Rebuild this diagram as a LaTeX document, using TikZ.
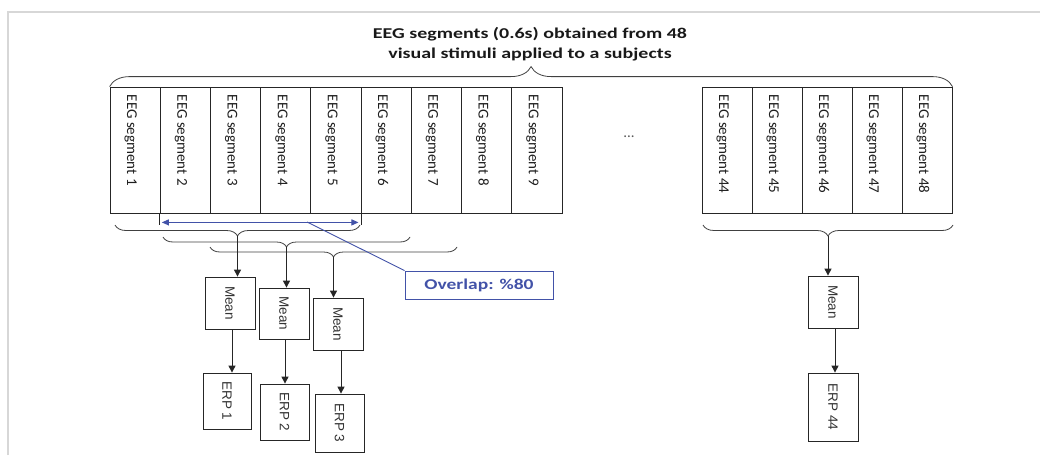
\documentclass[tikz,border=0pt]{standalone}
\usepackage{fontspec}
\setmainfont{Carlito}
\newfontfamily\arialf{Liberation Sans}
\usetikzlibrary{arrows.meta,decorations.pathreplacing}
\definecolor{ovblue}{RGB}{66,82,168}
\definecolor{framegray}{RGB}{215,215,215}
\definecolor{txtgray}{RGB}{30,30,30}
\tikzset{
  segbox/.style={draw=black!85, line width=0.8pt, minimum width=50.2pt, minimum height=126pt, inner sep=0pt},
  seglabel/.style={rotate=-90, anchor=base west, inner sep=0pt, text=txtgray, font=\fontsize{15}{18}\selectfont},
  procbox/.style={draw=black!85, line width=0.8pt, inner sep=0pt, text=black!80, font=\arialf\fontsize{13.5}{15}\selectfont},
  bracestyle/.style={draw=black!75, line width=0.8pt, decorate, decoration={brace, amplitude=#1}},
  arr/.style={draw=black!85, line width=1pt, -{Triangle[length=7pt,width=7pt]}},
  bluearr/.style={draw=ovblue, line width=1pt, {Triangle[length=7pt,width=6pt]}-{Triangle[length=7pt,width=6pt]}},
  ovbox/.style={draw=ovblue, line width=0.9pt, text=ovblue, minimum width=148pt, minimum height=28pt, inner sep=0pt, font=\bfseries\fontsize{15}{18}\selectfont},
  titletext/.style={align=center, text=black!90, inner sep=0pt, font=\bfseries\fontsize{15}{20}\selectfont},
  extline/.style={draw=black!85, line width=0.8pt}
}
\begin{document}
\begin{tikzpicture}[x=1pt,y=-1pt]
\useasboundingbox (0,0) rectangle (1040,455);
\draw[framegray, line width=2pt] (8,455) -- (8,12) -- (1040,12);

% title
\node[titletext] (title) at (530,44.5) {\scalebox{1.33}[1]{EEG segments (0.6s) obtained from 48}\\\scalebox{1.33}[1]{visual stimuli applied to a subjects}};

% segment boxes 1-9
\foreach \i in {1,...,9} {
  \node[segbox] (s\i) at ({110+(\i-0.5)*50.22},150) {};
  \node[seglabel] at ([xshift=-8pt,yshift=-8pt]s\i.north) {EEG segment \i};
}
% segment boxes 44-48
\foreach \i [count=\k] in {44,...,48} {
  \node[segbox] (s\i) at ({702+(\k-0.5)*50},150) {};
  \node[seglabel] at ([xshift=-8pt,yshift=-8pt]s\i.north) {EEG segment \i};
}
\node[text=black!65, font=\fontsize{15}{15}\selectfont] (dots) at (629,137) {...};

% top brace
\draw[bracestyle=20pt] (s1.north west) -- (s48.north east);

% lower braces
\coordinate (b1r) at (360,225); \coordinate (b1l) at (115,225);
\coordinate (b2r) at (410,237); \coordinate (b2l) at (163,237);
\coordinate (b3r) at (457,247); \coordinate (b3l) at (210,247);
\coordinate (b4r) at (953,225); \coordinate (b4l) at (703,225);
\draw[bracestyle=11pt] (b1r) -- (b1l);
\draw[bracestyle=10pt] (b2r) -- (b2l);
\draw[bracestyle=10pt] (b3r) -- (b3l);
\draw[bracestyle=11pt] (b4r) -- (b4l);
\coordinate (t1) at (237.5,236);
\coordinate (t2) at (286.5,247);
\coordinate (t3) at (333.5,257);
\coordinate (t4) at (828,236);

% mean boxes
\node[procbox, minimum width=50pt, minimum height=52pt] (m1) at (230,303) {\rotatebox{-90}{Mean}};
\node[procbox, minimum width=50pt, minimum height=51pt] (m2) at (284,313.5) {\rotatebox{-90}{Mean}};
\node[procbox, minimum width=50pt, minimum height=52pt] (m3) at (338,324) {\rotatebox{-90}{Mean}};
\node[procbox, minimum width=50pt, minimum height=52pt] (m44) at (833,302) {\rotatebox{-90}{Mean}};

% ERP boxes
\node[procbox, minimum width=48pt, minimum height=56pt] (e1) at (227,401) {\rotatebox{-90}{ERP 1}};
\node[procbox, minimum width=49pt, minimum height=56pt] (e2) at (284.5,412) {\rotatebox{-90}{ERP 2}};
\node[procbox, minimum width=49pt, minimum height=58pt] (e3) at (339.5,423) {\rotatebox{-90}{ERP 3}};
\node[procbox, minimum width=50pt, minimum height=68pt] (e44) at (833,407) {\rotatebox{-90}{ERP 44}};

% arrows
\draw[arr] (t1) -- (t1 |- m1.north);
\draw[arr] (t2) -- (t2 |- m2.north);
\draw[arr] (t3) -- (t3 |- m3.north);
\draw[arr] (t4) -- (t4 |- m44.north);
\draw[arr] ([xshift=2pt]m1.south) -- ([xshift=2pt]m1.south |- e1.north);
\draw[arr] ([xshift=1pt]m2.south) -- ([xshift=1pt]m2.south |- e2.north);
\draw[arr] ([xshift=3pt]m3.south) -- ([xshift=3pt]m3.south |- e3.north);
\draw[arr] ([xshift=2pt]m44.south) -- ([xshift=2pt]m44.south |- e44.north);

% overlap
\draw[extline] (s2.south west) -- ++(0,12);
\draw[extline] (s5.south east) -- ++(0,12);
\draw[bluearr] ([shift={(2pt,-9pt)}]s2.south west) -- ([shift={(-3pt,-9pt)}]s5.south east);
\node[ovbox] (ov) at (479,285) {\scalebox{1.3}[1]{Overlap: \%80}};
\coordinate (ovp) at (307,222);
\draw[ovblue, line width=0.9pt] (ovp) -- (ov.north west);
\end{tikzpicture}
\end{document}
